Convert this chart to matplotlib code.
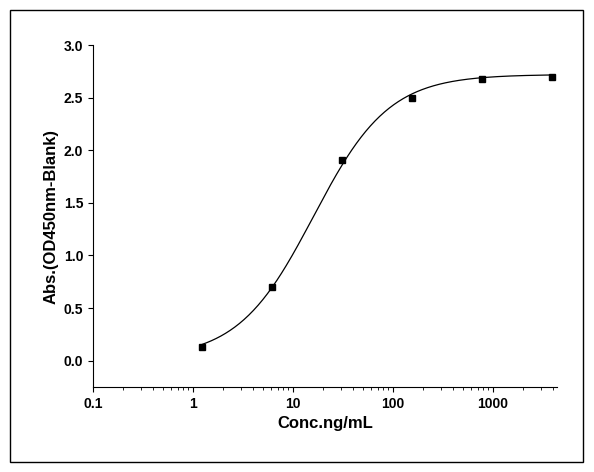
import numpy as np
import matplotlib.pyplot as plt
from matplotlib.patches import Rectangle

# measured points
conc = [1.23, 6.17, 30.9, 154, 772, 3860]
absorb = [0.13, 0.70, 1.91, 2.50, 2.68, 2.70]

bottom, top, ec50, hill = 0.02, 2.72, 16.0, 1.15

plt.rcParams['font.family'] = ['Liberation Sans', 'DejaVu Sans']
plt.rcParams['font.weight'] = 'bold'

fig = plt.figure(figsize=(5.94, 4.72), dpi=100)
fig.patches.append(Rectangle((10 / 594, 10 / 472), 573 / 594, 452 / 472,
                             transform=fig.transFigure, fill=False, lw=1, color='black'))
ax = fig.add_axes([93 / 594, 85 / 472, 464 / 594, 342 / 472])

xs = np.logspace(np.log10(conc[0]), np.log10(conc[-1]), 300)
ys = bottom + (top - bottom) * (xs / ec50) ** hill / (1 + (xs / ec50) ** hill)
ax.plot(xs, ys, color='black', lw=0.9)
ax.plot(conc, absorb, 's', color='black', ms=5)

ax.set_xscale('log')
ax.set_xlim(0.1, 4365)
ax.set_ylim(-0.25, 3.0)
ax.set_xticks([0.1, 1, 10, 100, 1000])
ax.set_xticklabels(['0.1', '1', '10', '100', '1000'])
ax.set_yticks(np.arange(0, 3.01, 0.5))
ax.set_yticklabels([f'{v:.1f}' for v in np.arange(0, 3.01, 0.5)])
ax.spines['top'].set_visible(False)
ax.spines['right'].set_visible(False)
ax.tick_params(direction='out', labelsize=10)
ax.set_xlabel('Conc.ng/mL', fontsize=12, fontweight='bold')
ax.set_ylabel('Abs.(OD450nm-Blank)', fontsize=12, fontweight='bold')

fig.savefig('out.png', dpi=100)
